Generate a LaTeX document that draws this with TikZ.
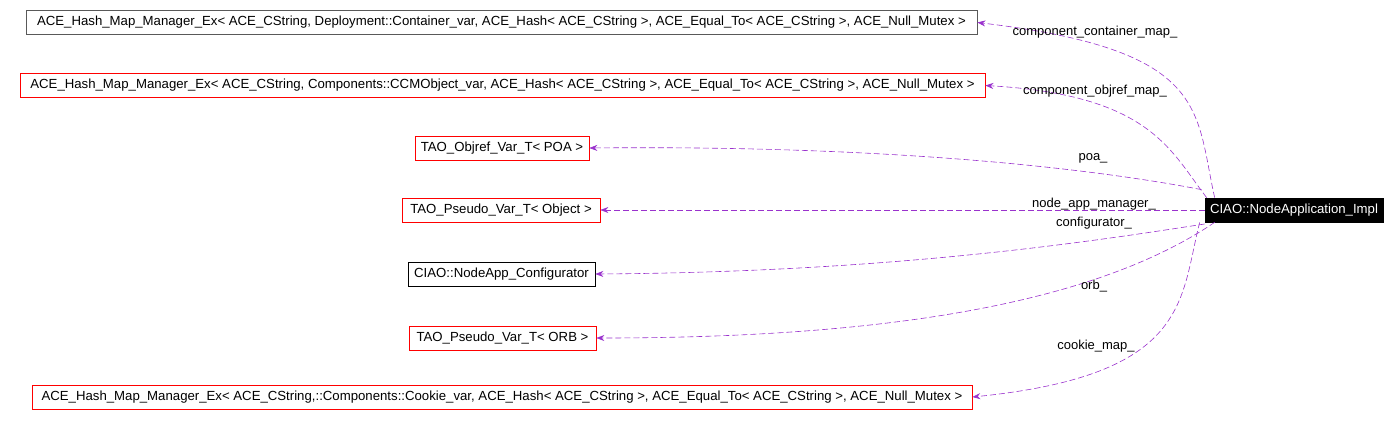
\documentclass[tikz,border=0pt]{standalone}
\usepackage{fontspec}
\setmainfont{Liberation Sans}
\usetikzlibrary{arrows.meta}
\begin{document}
\begin{tikzpicture}[x=1pt,y=-1pt,
  box/.style={draw=#1,line width=0.7pt,fill=white,inner sep=0pt,minimum height=24pt,font=\fontsize{13.2}{15}\selectfont},
  edge/.style={dashed,dash pattern=on 6pt off 3pt,line width=0.6pt,-{Stealth[length=8pt,width=6pt]}},
  lab/.style={font=\fontsize{13}{15}\selectfont}]
\useasboundingbox (0,0) rectangle (1400,428);
\definecolor{edgec}{HTML}{9A32CD}
\tikzset{edge/.append style={draw=edgec,color=edgec}}
\node[box=gray!70!black,minimum width=951pt] (n1) at (501.5,22.5) {ACE\_Hash\_Map\_Manager\_Ex< ACE\_CString, Deployment::Container\_var, ACE\_Hash< ACE\_CString >, ACE\_Equal\_To< ACE\_CString >, ACE\_Null\_Mutex >};
\node[box=red,minimum width=965pt] (n2) at (502.5,85.5) {ACE\_Hash\_Map\_Manager\_Ex< ACE\_CString, Components::CCMObject\_var, ACE\_Hash< ACE\_CString >, ACE\_Equal\_To< ACE\_CString >, ACE\_Null\_Mutex >};
\node[box=red,minimum width=174pt] (n3) at (502,148) {TAO\_Objref\_Var\_T< POA >};
\node[box=red,minimum width=198pt] (n4) at (501,210) {TAO\_Pseudo\_Var\_T< Object >};
\node[box=black,minimum width=187pt] (n5) at (501.5,274) {CIAO::NodeApp\_Configurator};
\node[box=red,minimum width=187pt] (n6) at (502.5,338) {TAO\_Pseudo\_Var\_T< ORB >};
\node[box=red,minimum width=940pt] (n7) at (502,397) {ACE\_Hash\_Map\_Manager\_Ex< ACE\_CString,::Components::Cookie\_var, ACE\_Hash< ACE\_CString >, ACE\_Equal\_To< ACE\_CString >, ACE\_Null\_Mutex >};
\node[box=black,fill=black,text=white,minimum width=178pt] (m) at (1294,210) {CIAO::NodeApplication\_Impl};
\draw[edge] (m.north west) ++(10,0) .. controls (1195,110) and (1210,50) .. (n1.east);
\draw[edge] (m.north west) ++(2,0) .. controls (1170,150) and (1150,95) .. (n2.east);
\draw[edge] (m.north west) ++(-3,-8) .. controls (1100,170) and (900,145) .. (n3.east);
\draw[edge] (m.west) -- (n4.east);
\draw[edge] (m.west) ++(0,14) .. controls (1100,240) and (900,272) .. (n5.east);
\draw[edge] (m.south west) ++(10,0) .. controls (1100,300) and (900,338) .. (n6.east);
\draw[edge] (m.south west) ++(-5,0) .. controls (1180,300) and (1190,375) .. (n7.east);
\node[lab] (l1) at (1095,32) {component\_container\_map\_};
\node[lab] (l2) at (1095,91) {component\_objref\_map\_};
\node[lab] (l3) at (1093,158) {poa\_};
\node[lab] (l4) at (1094,204) {node\_app\_manager\_};
\node[lab] (l5) at (1094,223) {configurator\_};
\node[lab] (l6) at (1094,286) {orb\_};
\node[lab] (l7) at (1096,346) {cookie\_map\_};
\end{tikzpicture}
\end{document}
